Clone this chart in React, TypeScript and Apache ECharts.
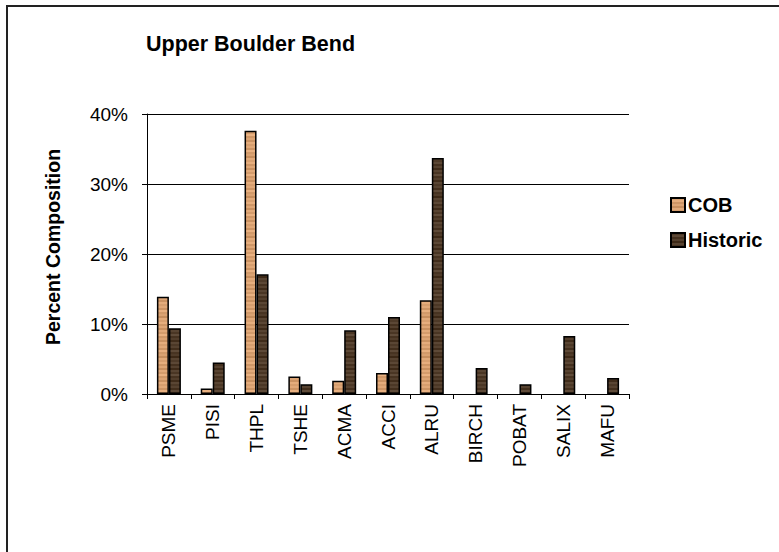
import React, { useEffect, useRef } from "react";
import * as echarts from "echarts";

const categories = ["PSME", "PISI", "THPL", "TSHE", "ACMA", "ACCI", "ALRU", "BIRCH", "POBAT", "SALIX", "MAFU"];
const cobValues: (number | null)[] = [13.9, 0.8, 37.6, 2.5, 1.9, 3.0, 13.4, null, null, null, null];
const historicValues: (number | null)[] = [9.4, 4.5, 17.1, 1.4, 9.1, 11.0, 33.7, 3.7, 1.4, 8.3, 2.3];
const yTicks = [0, 10, 20, 30, 40];

const FONT = "'Liberation Sans', Arial, Helvetica, sans-serif";

// Wood-grain swatch: horizontal bands of lighter and darker tone over a base colour.
const bandShades = [0, 14, -10, 6, -16, 10, -4, 18, -8, 4, -14, 12, -2, 8, -12, 16, -6, 2, -18, 10];

function woodPattern(base: [number, number, number]): HTMLCanvasElement {
  const c = document.createElement("canvas");
  c.width = 12;
  c.height = bandShades.length * 2;
  const ctx = c.getContext("2d")!;
  bandShades.forEach((s, i) => {
    const [r, g, b] = base.map((v) => Math.max(0, Math.min(255, v + s)));
    ctx.fillStyle = `rgb(${r},${g},${b})`;
    ctx.fillRect(0, i * 2, 12, 2);
  });
  return c;
}

export default function App() {
  const ref = useRef<HTMLDivElement>(null);

  useEffect(() => {
    if (!ref.current) return;
    const chart = echarts.init(ref.current, null, { renderer: "svg" });

    const cobFill = { image: woodPattern([216, 160, 112]), repeat: "repeat" as const };
    const histFill = { image: woodPattern([78, 58, 40]), repeat: "repeat" as const };

    chart.setOption({
      animation: false,
      backgroundColor: "#ffffff",
      textStyle: { fontFamily: FONT, color: "#000" },
      title: {
        text: "Upper Boulder Bend",
        left: 146,
        top: 33,
        padding: 0,
        textStyle: { fontFamily: FONT, fontSize: 21.5, fontWeight: "bold", color: "#000" },
      },
      legend: {
        orient: "vertical",
        left: 665,
        top: 190,
        itemWidth: 14,
        itemHeight: 14,
        itemGap: 15,
        icon: "rect",
        textStyle: { fontFamily: FONT, fontSize: 20, fontWeight: "bold", color: "#000", padding: [0, 0, 0, -2] },
        data: ["COB", "Historic"],
      },
      graphic: [
        {
          type: "rect",
          shape: { x: 7, y: 6, width: 800, height: 600 },
          style: { fill: "none", stroke: "#222", lineWidth: 2 },
          silent: true,
        },
      ],
      grid: { left: 147, top: 114, right: 150, bottom: 158, containLabel: false },
      xAxis: {
        type: "category",
        data: categories,
        axisLine: { lineStyle: { color: "#000", width: 1 } },
        axisTick: { show: true, length: 5, lineStyle: { color: "#000" } },
        axisLabel: { rotate: 90, fontSize: 19, color: "#000", fontFamily: FONT, margin: 10 },
      },
      yAxis: {
        type: "value",
        min: yTicks[0],
        max: yTicks[yTicks.length - 1],
        interval: 10,
        name: "Percent Composition",
        nameLocation: "middle",
        nameGap: 84,
        nameRotate: 90,
        nameTextStyle: {
          fontFamily: FONT,
          fontSize: 19.5,
          fontWeight: "bold",
          color: "#000",
          padding: [0, 0, 0, 14],
        },
        axisLine: { show: true, lineStyle: { color: "#000", width: 1 } },
        axisTick: { show: true, inside: false, length: 5, lineStyle: { color: "#000" } },
        axisLabel: { formatter: "{value}%", fontSize: 19, color: "#000", fontFamily: FONT, margin: 19 },
        splitLine: { show: true, lineStyle: { color: "#000", width: 1 } },
      },
      series: [
        {
          name: "COB",
          type: "bar",
          data: cobValues,
          barWidth: 12,
          barGap: "0%",
          itemStyle: { color: cobFill, borderColor: "#000", borderWidth: 1.5 },
        },
        {
          name: "Historic",
          type: "bar",
          data: historicValues,
          barWidth: 12,
          barGap: "0%",
          itemStyle: { color: histFill, borderColor: "#000", borderWidth: 1.5 },
        },
      ],
    });

    return () => chart.dispose();
  }, []);

  return (
    <div
      ref={ref}
      style={{ position: "fixed", left: 0, top: 0, width: 779, height: 552, background: "#fff" }}
    />
  );
}
